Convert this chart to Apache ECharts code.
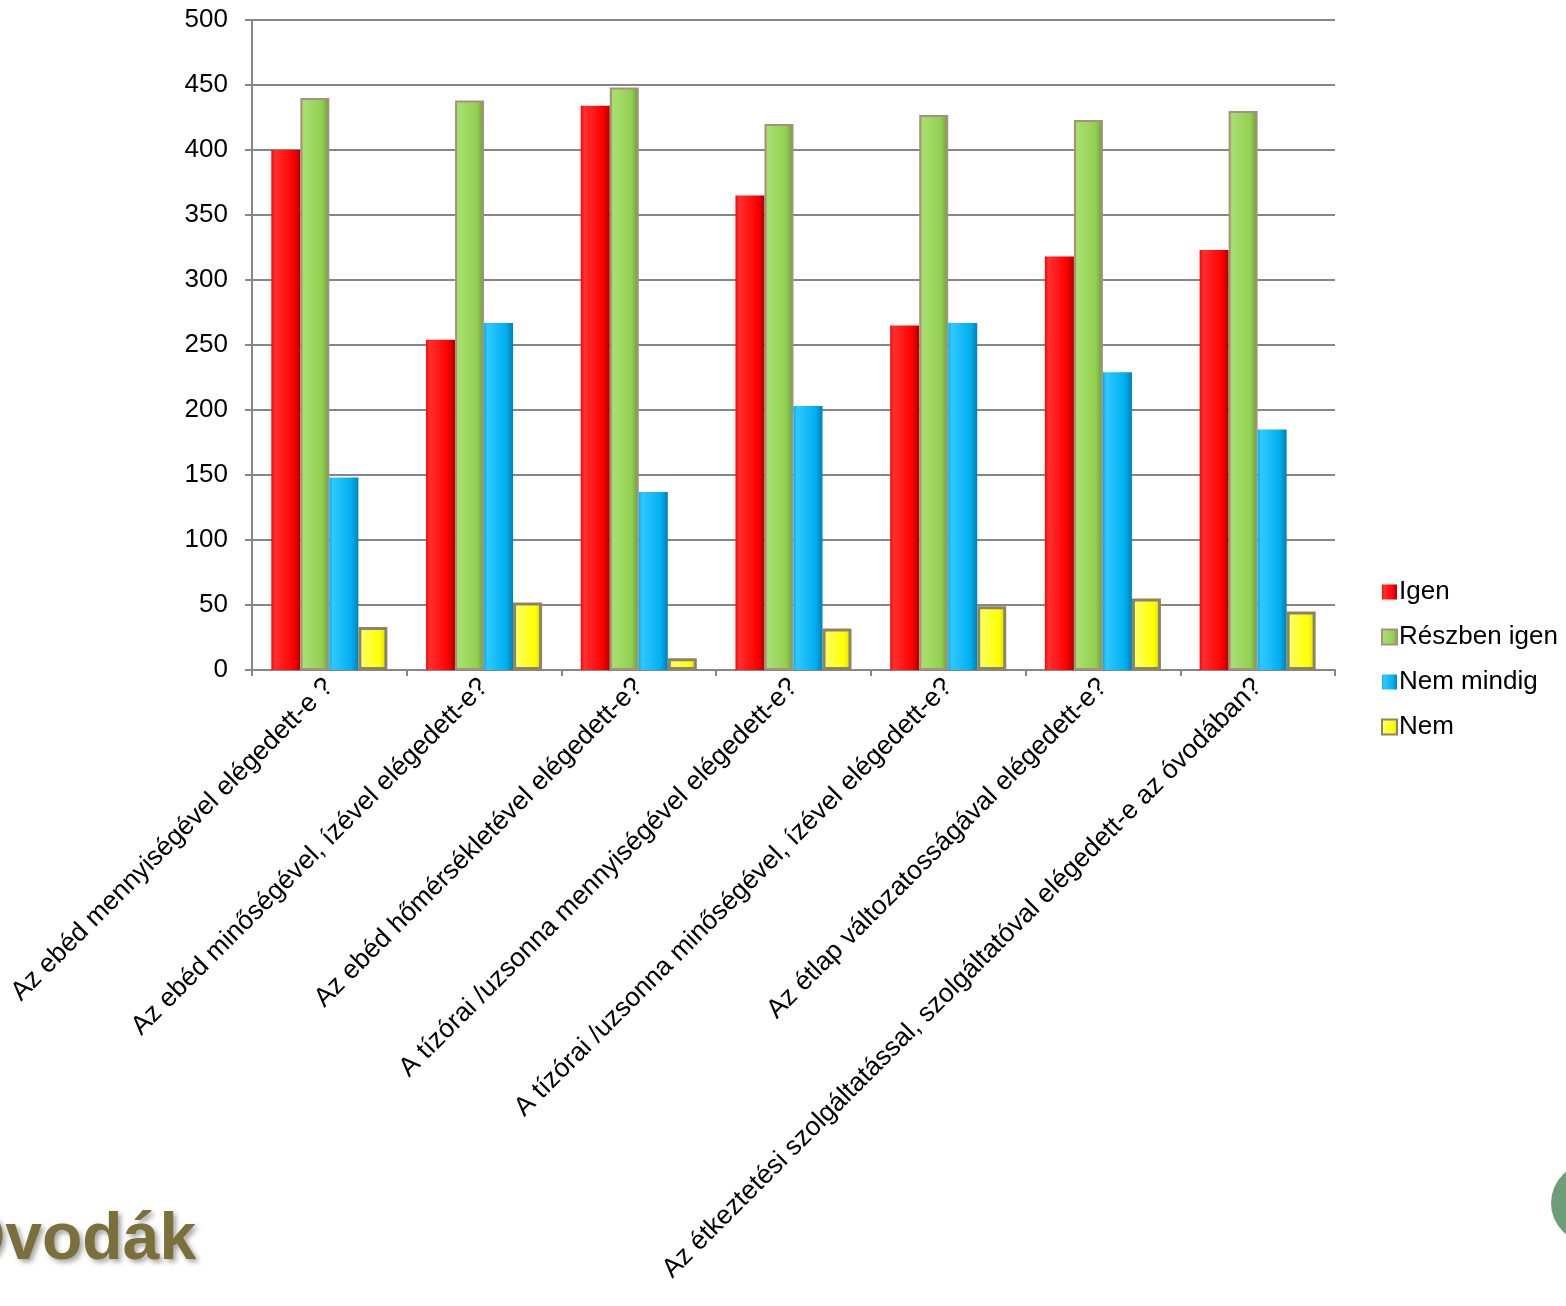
<!DOCTYPE html>
<html>
<head>
<meta charset="utf-8">
<script src="https://cdn.jsdelivr.net/npm/echarts@6/dist/echarts.min.js"></script>
<style>html,body{margin:0;padding:0;background:#fff;}#c{width:1566px;height:1306px;}</style>
</head>
<body>
<div id="c"></div>
<script>
var categories = [
  "Az ebéd mennyiségével elégedett-e ?",
  "Az ebéd minőségével, ízével elégedett-e?",
  "Az ebéd hőmérsékletével elégedett-e?",
  "A tízórai /uzsonna mennyiségével elégedett-e?",
  "A tízórai /uzsonna minőségével, ízével elégedett-e?",
  "Az étlap változatosságával elégedett-e?",
  "Az étkeztetési szolgáltatással, szolgáltatóval elégedett-e az óvodában?"
];
var seriesNames = ["Igen", "Részben igen", "Nem mindig", "Nem"];
var igen = [400, 254, 434, 365, 265, 318, 323];
var reszbenIgen = [440, 438, 448, 420, 427, 423, 430];
var nemMindig = [148, 267, 137, 203, 267, 229, 185];
var nem = [33, 52, 9, 32, 49, 55, 45];
var yTicks = [0, 50, 100, 150, 200, 250, 300, 350, 400, 450, 500];

function grad(light, mid, dark) {
  return new echarts.graphic.LinearGradient(0, 0, 1, 0, [
    {offset: 0, color: mid},
    {offset: 0.12, color: light},
    {offset: 0.75, color: mid},
    {offset: 1, color: dark}
  ]);
}

var chart = echarts.init(document.getElementById('c'), null, {renderer: 'canvas'});
var font = "'Liberation Sans', Arial, sans-serif";
chart.setOption({
  backgroundColor: '#ffffff',
  animation: false,
  textStyle: {fontFamily: font},
  grid: {left: 252, right: 231, top: 20, bottom: 636, containLabel: false},
  legend: {
    orient: 'vertical',
    left: 1376,
    top: 574,
    itemWidth: 15,
    itemHeight: 15,
    itemGap: 19,
    icon: 'rect',
    textStyle: {fontSize: 26, color: '#000', fontFamily: font, padding: [0, 0, 0, -3]},
    data: seriesNames
  },
  xAxis: {
    type: 'category',
    data: categories,
    axisLine: {show: true, lineStyle: {color: '#868686', width: 2}},
    axisTick: {show: true, length: 6, lineStyle: {color: '#868686', width: 2}},
    axisLabel: {interval: 0, rotate: 45, fontSize: 26.5, color: '#000', margin: 13, fontFamily: font}
  },
  yAxis: {
    type: 'value',
    min: 0,
    max: 500,
    interval: 50,
    axisLine: {show: true, lineStyle: {color: '#868686', width: 2}},
    axisTick: {show: true, length: 7, lineStyle: {color: '#868686', width: 2}},
    axisLabel: {fontSize: 26, color: '#000', margin: 24, fontFamily: font,
      formatter: function (v) { return yTicks.indexOf(v) >= 0 ? String(v) : ''; }},
    splitLine: {show: true, lineStyle: {color: '#868686', width: 2}}
  },
  series: [
    {name: seriesNames[0], type: 'bar', data: igen, barGap: '0%', barCategoryGap: '25%',
      itemStyle: {color: grad('#ff3030', '#ff0000', '#b00000')}},
    {name: seriesNames[1], type: 'bar', data: reszbenIgen,
      itemStyle: {color: grad('#a8e070', '#92d050', '#6a9a38'), borderColor: '#a89080', borderWidth: 2}},
    {name: seriesNames[2], type: 'bar', data: nemMindig,
      itemStyle: {color: grad('#30c8ff', '#00b0f0', '#0080b8')}},
    {name: seriesNames[3], type: 'bar', data: nem,
      itemStyle: {color: grad('#ffff60', '#ffff00', '#d8d800'), borderColor: '#8c8468', borderWidth: 3}}
  ],
  graphic: [
    {type: 'text', left: -46, top: 1208, z: 10,
      style: {text: 'Óvodák', fill: '#7b6f3b', font: "bold 66px 'Liberation Sans', Arial, sans-serif",
        textShadowColor: 'rgba(0,0,0,0.35)', textShadowBlur: 5, textShadowOffsetX: 3, textShadowOffsetY: 3}},
    {type: 'circle', shape: {cx: 1591, cy: 1203, r: 40}, style: {fill: '#6d9e77'}}
  ]
});
</script>
</body>
</html>
